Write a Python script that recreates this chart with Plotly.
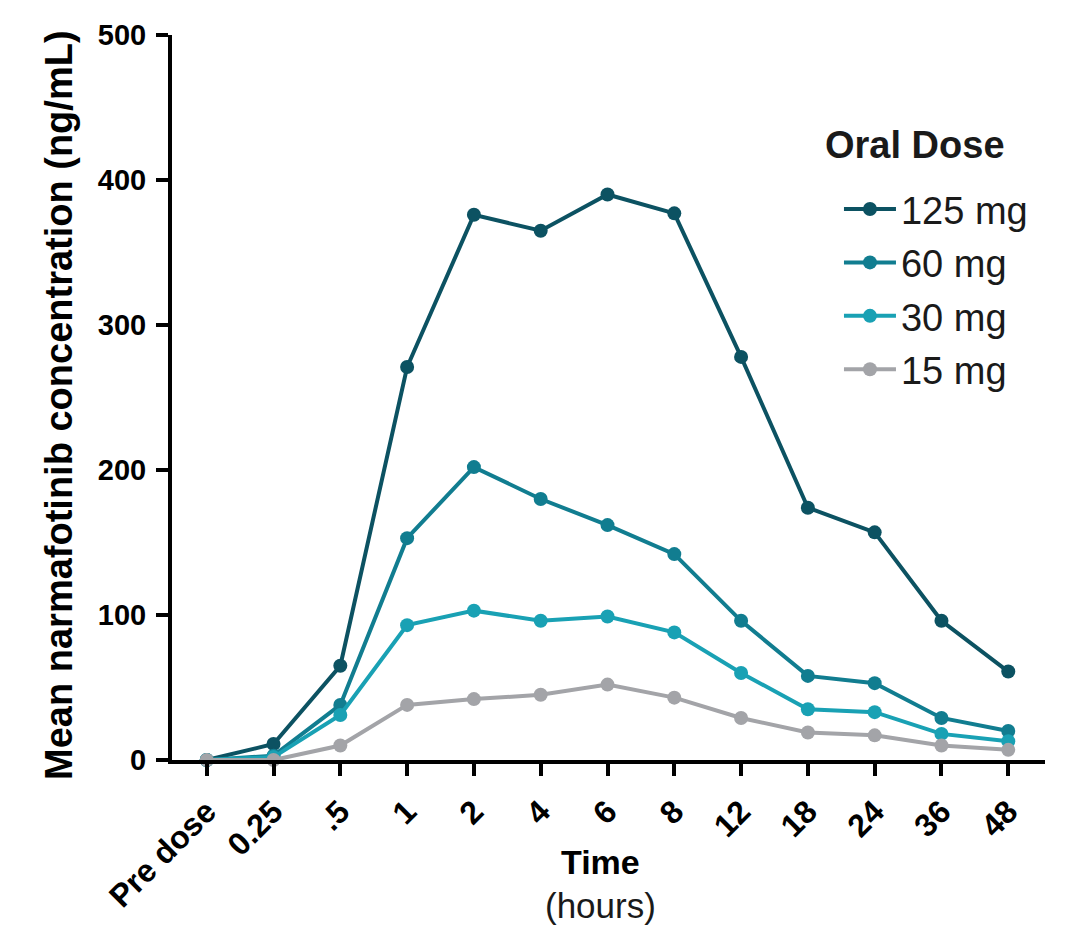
import plotly.graph_objects as go

time_labels = ["Pre dose", "0.25", ".5", "1", "2", "4", "6", "8", "12", "18", "24", "36", "48"]
dose_names = ["125 mg", "60 mg", "30 mg", "15 mg"]
conc_125 = [0, 11, 65, 271, 376, 365, 390, 377, 278, 174, 157, 96, 61]
conc_60 = [0, 3, 38, 153, 202, 180, 162, 142, 96, 58, 53, 29, 20]
conc_30 = [0, 2, 31, 93, 103, 96, 99, 88, 60, 35, 33, 18, 13]
conc_15 = [0, 0, 10, 38, 42, 45, 52, 43, 29, 19, 17, 10, 7]
y_ticks = [0, 100, 200, 300, 400, 500]

series = [conc_125, conc_60, conc_30, conc_15]
colors = ["#0c5262", "#117d90", "#19a1b4", "#a3a4a8"]

x_pos = list(range(len(time_labels)))

FONT = "Liberation Sans, Arial, sans-serif"

fig = go.Figure()
for name, vals, col in zip(dose_names, series, colors):
    fig.add_trace(go.Scatter(
        x=x_pos, y=vals, name=name, mode="lines+markers",
        line=dict(color=col, width=4),
        marker=dict(color=col, size=14),
        legendgroup=name,
        cliponaxis=False,
    ))

fig.update_layout(
    width=1060, height=919,
    paper_bgcolor="white", plot_bgcolor="white",
    margin=dict(l=164, r=23, t=27, b=167, autoexpand=False),
    font=dict(family=FONT, color="black"),
    showlegend=True,
    legend=dict(
        x=0.764, y=0.803, xanchor="left", yanchor="top",
        font=dict(size=38, color="#1a1a1a"),
        tracegroupgap=1,
        itemwidth=52,
        bgcolor="rgba(0,0,0,0)",
    ),
    xaxis=dict(
        range=[-0.52, 12.55],
        tickmode="array", tickvals=x_pos, ticktext=[f"<b>{t}</b>" for t in time_labels],
        tickangle=-45,
        tickfont=dict(size=32),
        showline=True, linecolor="black", linewidth=4,
        ticks="outside", ticklen=12, tickwidth=4, tickcolor="black",
        ticklabelstandoff=4,
        showgrid=False, zeroline=False, automargin=False,
    ),
    yaxis=dict(
        range=[0, 500],
        tickmode="array", tickvals=y_ticks, ticktext=[f"<b>{v}</b>" for v in y_ticks],
        tickfont=dict(size=29),
        showline=True, linecolor="black", linewidth=4,
        ticks="outside", ticklen=12, tickwidth=4, tickcolor="black",
        ticklabelstandoff=4,
        showgrid=False, zeroline=False, automargin=False,
    ),
    annotations=[
        dict(text="<b>Mean narmafotinib concentration (ng/mL)</b>", textangle=-90,
             xref="paper", yref="paper", x=-0.1295, y=0.4897, xanchor="center", yanchor="middle",
             showarrow=False, font=dict(size=38, family=FONT, color="black")),
        dict(text="<b>Time</b>", xref="paper", yref="paper", x=0.4914, y=-0.1407,
             xanchor="center", yanchor="middle", showarrow=False,
             font=dict(size=34, family=FONT, color="black")),
        dict(text="(hours)", xref="paper", yref="paper", x=0.4914, y=-0.2,
             xanchor="center", yanchor="middle", showarrow=False,
             font=dict(size=35, family=FONT, color="#1a1a1a")),
        dict(text="<b>Oral Dose</b>", xref="paper", yref="paper", x=0.746, y=0.8483,
             xanchor="left", yanchor="middle", showarrow=False,
             font=dict(size=38, family=FONT, color="#1a1a1a")),
    ],
)

fig.write_html("out.html")
